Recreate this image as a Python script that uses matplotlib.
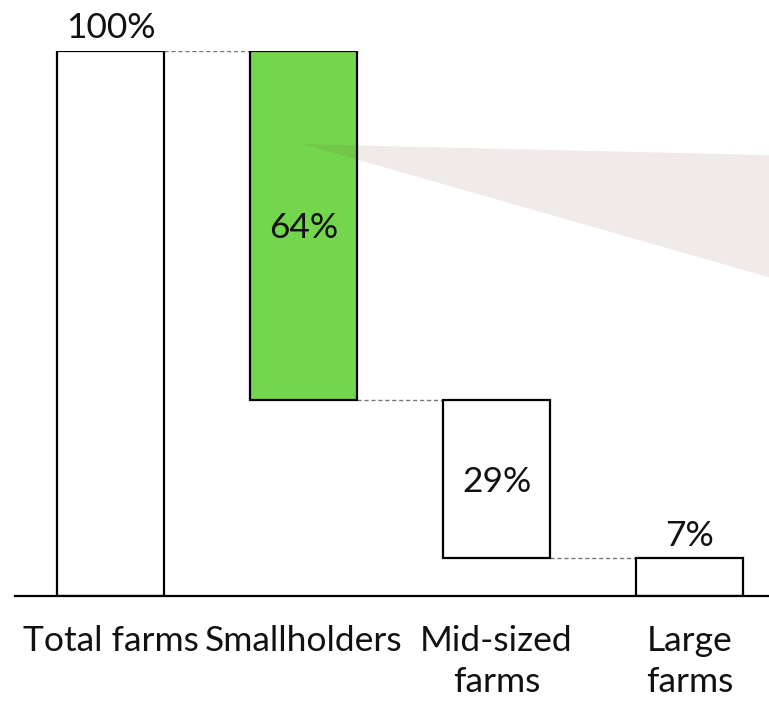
import matplotlib
matplotlib.use("Agg")
import matplotlib.pyplot as plt
from matplotlib.patches import Polygon

categories = ["Total farms", "Smallholders", "Mid-sized\nfarms", "Large\nfarms"]
values = [100, 64, 29, 7]
labels = ["100%", "64%", "29%", "7%"]
colors = ["white", "#73d64c", "white", "white"]

# waterfall bottoms
bottoms = [0]
running = 100
for v in values[1:]:
    running -= v
    bottoms.append(running)
tops = [b + v for b, v in zip(bottoms, values)]

plt.rcParams['font.family'] = ['Lato', 'DejaVu Sans']
plt.rcParams['font.weight'] = 'normal'

fig = plt.figure(figsize=(7.69, 7.01), dpi=100)
ax = fig.add_axes([15/769, 105/701, 754/769, 545/701])
ax.set_xlim(-0.495, 3.412)
ax.set_ylim(0, 100)

x = list(range(len(categories)))
width = 0.55
ax.bar(x, values, bottom=bottoms, width=width, color=colors,
       edgecolor="black", linewidth=1.6, zorder=3)

# connectors
for i in range(len(values) - 1):
    level = tops[i + 1] if i == 0 else bottoms[i]
    ax.plot([x[i] + width/2, x[i+1] - width/2], [level, level],
            color="#777777", linestyle=(0, (3, 2)), linewidth=1.0, zorder=2)

# callout wedge
wedge = Polygon([[1.0, 82.9], [3.412, 80.9], [3.412, 58.5]], closed=True,
                facecolor="#7a4a30", alpha=0.11, edgecolor="none", zorder=4)
ax.add_patch(wedge)

# value labels
fs = 25.5
ax.text(x[0], tops[0] + 2.4, labels[0], ha="center", va="baseline", fontsize=fs, color="#111111", zorder=5)
ax.text(x[1], (bottoms[1] + tops[1]) / 2, labels[1], ha="center", va="center_baseline", fontsize=fs, color="#111111", zorder=5)
ax.text(x[2], (bottoms[2] + tops[2]) / 2, labels[2], ha="center", va="center_baseline", fontsize=fs, color="#111111", zorder=5)
ax.text(x[3], tops[3] + 2.2, labels[3], ha="center", va="baseline", fontsize=fs, color="#111111", zorder=5)

ax.set_xticks(x)
ax.set_xticklabels(categories, fontsize=fs, linespacing=1.35, color="#111111")
ax.tick_params(axis="x", length=0, pad=21)
ax.set_yticks([])
for s in ["top", "right", "left"]:
    ax.spines[s].set_visible(False)
ax.spines["bottom"].set_linewidth(1.6)
ax.spines["bottom"].set_zorder(6)

fig.savefig("out.png", dpi=100, facecolor="white")
